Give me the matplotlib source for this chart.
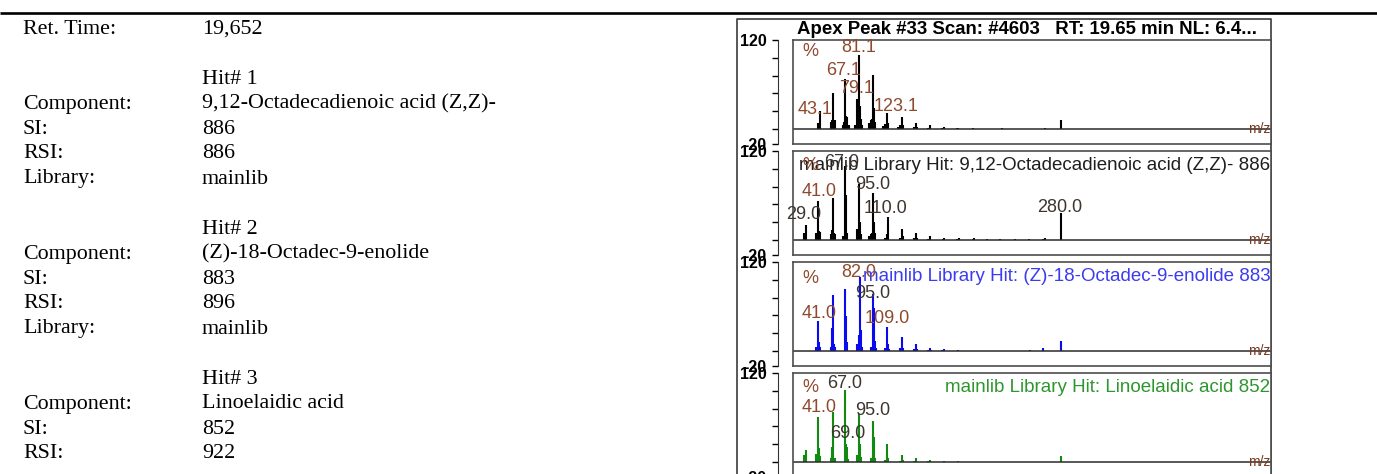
import matplotlib
matplotlib.use('Agg')
import matplotlib.pyplot as plt
import matplotlib.transforms as mtransforms

# ---- data ----
ret_time = '19,652'
hit_names = ['9,12-Octadecadienoic acid (Z,Z)-', '(Z)-18-Octadec-9-enolide', 'Linoelaidic acid']
hit_si = [886, 883, 852]
hit_rsi = [886, 896, 922]
hit_lib = ['mainlib', 'mainlib', 'mainlib']

title = 'Apex Peak #33 Scan: #4603   RT: 19.65 min NL: 6.4...'

# sample spectrum (apex scan)
p1_mz = [41, 42, 43, 53, 54, 55, 56, 57, 65, 66, 67, 68, 69, 70, 71, 77, 79, 80, 81, 82, 83, 84,
         91, 93, 94, 95, 96, 97, 105, 107, 108, 109, 110, 119, 121, 122, 123, 124, 135, 136, 137,
         138, 149, 150, 151, 163, 164, 165, 178, 179, 193, 222, 264, 280]
p1_int = [8, 4, 25, 9, 12, 48, 10, 12, 5, 9, 67, 18, 16, 5, 6, 6, 40, 20, 100, 31, 14, 5,
          8, 12, 14, 73, 29, 9, 4, 7, 6, 22, 8, 3, 5, 4, 16, 5, 3, 3, 8,
          3, 2, 2, 5, 1.5, 1.5, 3, 1.5, 2, 1.5, 1.5, 2, 12]
p1_lab = ['81.1', '67.1', '79.1', '43.1', '123.1']

# library hit 1
p2_mz = [27, 29, 39, 41, 42, 43, 53, 54, 55, 56, 57, 65, 67, 68, 69, 79, 80, 81, 82, 83, 91, 93,
         94, 95, 96, 97, 107, 109, 110, 121, 123, 124, 135, 137, 138, 149, 151, 164, 165, 178,
         180, 193, 194, 207, 220, 235, 249, 262, 264, 280]
p2_int = [9, 21, 10, 53, 12, 11, 8, 14, 57, 9, 8, 5, 100, 61, 10, 15, 10, 76, 25, 8, 5, 8,
          10, 63, 25, 10, 3, 8, 31, 3, 15, 6, 3, 9, 3, 2, 5, 2, 3.5, 1.5,
          3, 1.5, 2.5, 1, 1, 1, 1, 1, 3, 36]
p2_lab = ['%', '67.0', '29.0', '41.0', '95.0', '110.0', '280.0']

# library hit 2
p3_mz = [39, 41, 42, 43, 53, 54, 55, 56, 57, 67, 68, 69, 79, 80, 81, 82, 83, 84, 93, 95, 96, 97,
         98, 107, 109, 110, 111, 121, 123, 124, 135, 137, 138, 149, 151, 152, 163, 165, 179, 193,
         250, 262, 280]
p3_int = [5, 40, 12, 6, 5, 31, 76, 10, 6, 83, 47, 12, 10, 6, 22, 100, 29, 6, 5, 77, 58, 13,
          4, 4, 32, 9, 3, 4, 19, 4, 3, 10, 3, 2, 4, 2, 1.5, 3, 1, 0.8,
          2, 4.5, 13]
p3_lab = ['%', '82.0', '95.0', '41.0', '109.0']

# library hit 3
p4_mz = [27, 29, 39, 41, 42, 43, 53, 54, 55, 56, 57, 67, 68, 69, 70, 79, 81, 82, 83, 93, 95, 96,
         97, 107, 109, 110, 121, 123, 124, 135, 137, 149, 151, 165, 179, 280]
p4_int = [9, 16, 11, 61, 19, 8, 6, 20, 67, 6, 6, 97, 25, 20, 4, 9, 65, 25, 7, 5, 56, 34,
          6, 3, 25, 6, 2, 10, 3, 2, 5, 2, 3.5, 1.5, 1, 8]
p4_lab = ['%', '67.0', '41.0', '95.0', '69.0']

# ---- layout ----
W, H = 1377, 474
fig = plt.figure(figsize=(W / 100, H / 100), dpi=100)
bg = fig.add_axes([0, 0, 1, 1])
bg.set_xlim(0, W)
bg.set_ylim(H, 0)
bg.axis('off')

bg.plot([0, W], [13, 13], color='black', lw=1.9, solid_capstyle='butt')

# left text block
serif = 'Liberation Serif'
rows = [('Ret. Time:', ret_time), ('', '')]
for i in range(3):
    rows += [('', 'Hit# %d' % (i + 1)), ('Component:', hit_names[i]), ('SI:', str(hit_si[i])),
             ('RSI:', str(hit_rsi[i])), ('Library:', hit_lib[i]), ('', '')]
for k, (lab, val) in enumerate(rows):
    yb = 26 + 25 * k + 7.5
    if yb > H:
        break
    bg.text(23, yb, lab, family=serif, fontsize=15.8, va='baseline', ha='left')
    bg.text(202, yb, val, family=serif, fontsize=15.8, va='baseline', ha='left')

# spectrum picture frame + title
bg.plot([737, 737, 1271, 1271], [480, 19, 19, 480], color='#4a4a4a', lw=1.3)
bg.text(797, 29, title, family='Liberation Sans', fontweight='bold', fontsize=13.4,
        va='center', ha='left')

brown = '#8e4a2e'
dark = '#3d3530'
sans = 'Liberation Sans'
panels = [
    (p1_mz, p1_int, 'black', None, None, p1_lab,
     [(81, 110, brown), (66, 79, brown), (79, 55, brown), (38, 26, brown), (118, 30, brown)]),
    (p2_mz, p2_int, 'black', 'mainlib Library Hit: 9,12-Octadecadienoic acid (Z,Z)- 886', '#1e1e1e',
     p2_lab,
     [(33, 100, brown), (64, 104, dark), (26.5, 34, dark), (42, 65, brown), (94.5, 75, dark),
      (107, 43, dark), (279, 44, dark)]),
    (p3_mz, p3_int, '#0a0aee', 'mainlib Library Hit: (Z)-18-Octadec-9-enolide 883', '#3b3bf0',
     p3_lab,
     [(33, 98, brown), (81, 106, brown), (94.5, 78, dark), (42, 51, brown), (109, 44, brown)]),
    (p4_mz, p4_int, '#118a11', 'mainlib Library Hit: Linoelaidic acid 852', '#2e962e',
     p4_lab,
     [(33, 100, brown), (67, 106, dark), (42, 73, brown), (94.5, 70, dark), (70, 39, dark)]),
]
tops = [40, 151, 262, 373]
left, right, hgt = 793, 1271, 104

for i, (mz, inten, col, hit, hitcol, labs, labpos) in enumerate(panels):
    t = tops[i]
    b = t + hgt
    ax = fig.add_axes([left / W, 1 - b / H, (right - left) / W, hgt / H])
    ax.set_xlim(16, 487)
    ax.set_ylim(-20, 120)
    ax.vlines(mz, 0, inten, colors=col, lw=1.5)
    ax.axhline(0, color='#2a2a2a', lw=1.1)
    for s in ['top', 'right', 'bottom']:
        ax.spines[s].set_color('#4d4d4d')
        ax.spines[s].set_linewidth(1.2)
    ax.spines['left'].set_position(('outward', 11))
    ax.spines['left'].set_color('#333333')
    ax.axvline(16, color='#4d4d4d', lw=1.2, clip_on=False)
    ax.set_xticks([])
    ax.set_yticks([-20, 0, 24, 48, 72, 96, 120])
    ax.set_yticklabels(['-20', '', '', '', '', '', '120'], fontweight='bold', fontsize=11.5,
                       family=sans)
    ax.tick_params(axis='y', direction='out', length=4, width=1, pad=4)

    trans = mtransforms.blended_transform_factory(ax.transAxes, ax.transData)
    ax.text(0.999, 0, 'm/z', transform=trans, ha='right', va='center', color='#7a3b20',
            fontsize=10, family=sans)
    if hit:
        ax.text(0.999, 100, hit, transform=trans, ha='right', va='center', color=hitcol,
                fontsize=13.5, family=sans)
    for s, (x, y, c) in zip(labs, labpos):
        ax.text(x, y, s, ha='center', va='center', color=c, fontsize=13, family=sans)
    if i == 0:
        ax.text(33, 105, '%', ha='center', va='center', color=brown, fontsize=13, family=sans)

fig.savefig('out.png', dpi=100)
